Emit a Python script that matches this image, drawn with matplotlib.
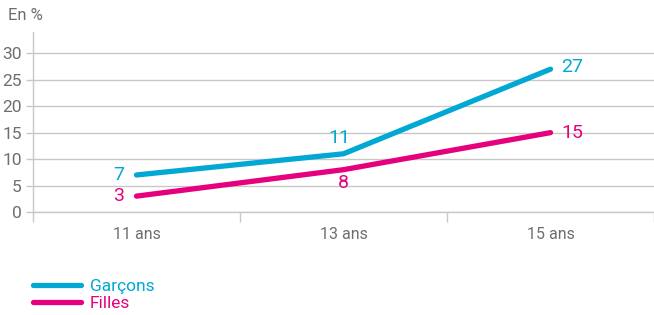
import matplotlib.pyplot as plt
from matplotlib import font_manager

names = {f.name for f in font_manager.fontManager.ttflist}
font = 'Liberation Sans Narrow' if 'Liberation Sans Narrow' in names else 'Roboto'
plt.rcParams['font.family'] = [font, 'DejaVu Sans']

categories = ['11 ans', '13 ans', '15 ans']
garcons = [7, 11, 27]
filles = [3, 8, 15]
yticks = [0, 5, 10, 15, 20, 25, 30]

blue = '#00A8D3'
pink = '#E6007E'
gray = '#6d6e71'
grid = '#c8c8c8'

fig = plt.figure(figsize=(6.54, 3.15), dpi=100)
ax = fig.add_axes([0.0505, 0.327, 0.9495, 0.571])
x = range(len(categories))
ax.plot(x, garcons, color=blue, lw=3.8, solid_capstyle='round', label='Garçons')
ax.plot(x, filles, color=pink, lw=3.8, solid_capstyle='round', label='Filles')

ax.set_xlim(-0.5, 2.5)
ax.set_ylim(0, 34)
ax.set_yticks(yticks)
ax.set_xticks([-0.5, 0.5, 1.5, 2.5], minor=False)
ax.set_xticklabels([])
ax.set_xticks(list(x), minor=True)
ax.set_xticklabels(categories, minor=True)
ax.tick_params(axis='x', which='major', length=7, color=grid, width=1)
ax.tick_params(axis='x', which='minor', length=0, pad=11, labelsize=11.5, labelcolor=gray)
ax.tick_params(axis='y', length=5, color=grid, width=1, labelsize=12.5, labelcolor=gray, pad=3)
for s in ['top', 'right']:
    ax.spines[s].set_visible(False)
for s in ['left', 'bottom']:
    ax.spines[s].set_color(grid)
    ax.spines[s].set_linewidth(1)
ax.yaxis.grid(True, color=grid, lw=1)
ax.set_axisbelow(True)

fs = 14
ax.text(0 - 0.06, garcons[0], str(garcons[0]), color=blue, fontsize=fs, ha='right', va='center')
ax.text(1 - 0.02, garcons[1] + 1.3, str(garcons[1]), color=blue, fontsize=fs, ha='center', va='bottom')
ax.text(2 + 0.05, garcons[2] + 0.5, str(garcons[2]), color=blue, fontsize=fs, ha='left', va='center')
ax.text(0 - 0.06, filles[0], str(filles[0]), color=pink, fontsize=fs, ha='right', va='center')
ax.text(1, filles[1] - 0.9, str(filles[1]), color=pink, fontsize=fs, ha='center', va='top')
ax.text(2 + 0.05, filles[2], str(filles[2]), color=pink, fontsize=fs, ha='left', va='center')

fig.text(0.012, 0.95, 'En %', color=gray, fontsize=12, ha='left', va='center')

leg = fig.legend(loc='lower left', bbox_to_anchor=(0.026, -0.038), frameon=False,
                 handlelength=2.8, handletextpad=0.5, labelspacing=0.12, fontsize=12.5)
for t, c in zip(leg.get_texts(), [blue, pink]):
    t.set_color(c)

fig.savefig('out.png', dpi=100)
